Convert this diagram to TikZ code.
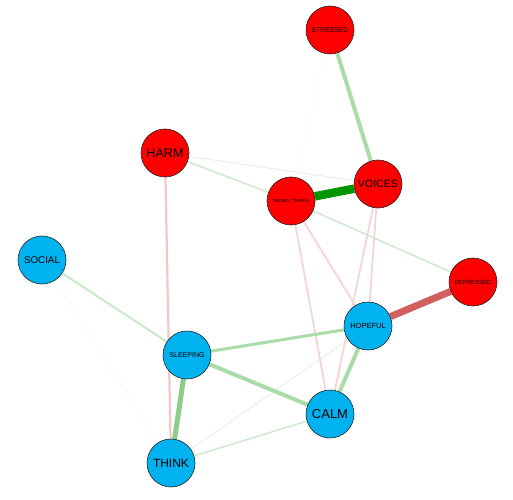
\documentclass[tikz,border=0pt]{standalone}
\usepackage{fontspec}
\setmainfont{Liberation Sans}
\usetikzlibrary{backgrounds}
\definecolor{nred}{RGB}{255,0,0}
\definecolor{nblue}{RGB}{0,178,240}
\definecolor{gdark}{RGB}{0,150,0}
\definecolor{gmid}{RGB}{140,205,140}
\definecolor{glight}{RGB}{170,220,170}
\definecolor{gpale}{RGB}{205,234,205}
\definecolor{gfaint}{RGB}{228,243,228}
\definecolor{gghost}{RGB}{242,249,242}
\definecolor{gvanish}{RGB}{248,252,248}
\definecolor{pink}{RGB}{240,200,200}
\definecolor{pinkl}{RGB}{244,212,212}
\definecolor{rthick}{RGB}{210,95,95}
\tikzset{
  vert/.style={circle, draw=black!85, line width=0.6bp, minimum size=48bp, inner sep=0pt, text=black},
  redv/.style={vert, fill=nred},
  bluev/.style={vert, fill=nblue},
  edge/.style={line cap=butt}
}
\begin{document}
\begin{tikzpicture}[x=1bp,y=-1bp]
\useasboundingbox (0,0) rectangle (513,500);
\node[redv] (stressed) at (330,30) {\fontsize{6.8bp}{8bp}\selectfont STRESSED};
\node[redv] (harm) at (165,153) {\fontsize{12.6bp}{14bp}\selectfont HARM};
\node[redv] (voices) at (378,184) {\fontsize{10.6bp}{12bp}\selectfont VOICES};
\node[redv] (seeing) at (291,201) {\fontsize{4.5bp}{5bp}\selectfont SEEING\_THINGS};
\node[bluev] (social) at (42,260) {\fontsize{9.8bp}{11bp}\selectfont SOCIAL};
\node[redv] (depressed) at (473,282) {\fontsize{6bp}{7bp}\selectfont DEPRESSED};
\node[bluev] (hopeful) at (368,326) {\fontsize{7.5bp}{9bp}\selectfont HOPEFUL};
\node[bluev] (sleeping) at (187,355) {\fontsize{7bp}{8bp}\selectfont SLEEPING};
\node[bluev] (calm) at (330,414) {\fontsize{13bp}{15bp}\selectfont CALM};
\node[bluev] (think) at (171,463) {\fontsize{12bp}{14bp}\selectfont THINK};
\begin{scope}[on background layer]
\draw[edge, gvanish, line width=0.5bp] (stressed) -- (seeing);
\draw[edge, gghost, line width=0.7bp] (social) -- (think);
\draw[edge, gfaint, line width=1bp] (think) -- (hopeful);
\draw[edge, gfaint, line width=1bp] (harm) -- (voices);
\draw[edge, gpale, line width=1.5bp] (harm) -- (seeing);
\draw[edge, gpale, line width=1.5bp] (seeing) -- (depressed);
\draw[edge, gpale, line width=1.5bp] (calm) -- (think);
\draw[edge, pinkl, line width=1.8bp] (seeing) -- (hopeful);
\draw[edge, pinkl, line width=1.8bp] (seeing) -- (calm);
\draw[edge, pinkl, line width=1.8bp] (voices) -- (calm);
\draw[edge, pinkl, line width=1.8bp] (voices) -- (hopeful);
\draw[edge, pink, line width=2.2bp] (harm) -- (think);
\draw[edge, gpale, line width=2.2bp] (social) -- (sleeping);
\draw[edge, glight, line width=3bp] (sleeping) -- (hopeful);
\draw[edge, glight, line width=4bp] (sleeping) -- (calm);
\draw[edge, glight, line width=4bp] (hopeful) -- (calm);
\draw[edge, glight, line width=4bp] (stressed) -- (voices);
\draw[edge, gmid, line width=5bp] (sleeping) -- (think);
\draw[edge, rthick, line width=7bp] (hopeful) -- (depressed);
\draw[edge, gdark, line width=8.5bp] (seeing) -- (voices);
\end{scope}
\end{tikzpicture}
\end{document}
